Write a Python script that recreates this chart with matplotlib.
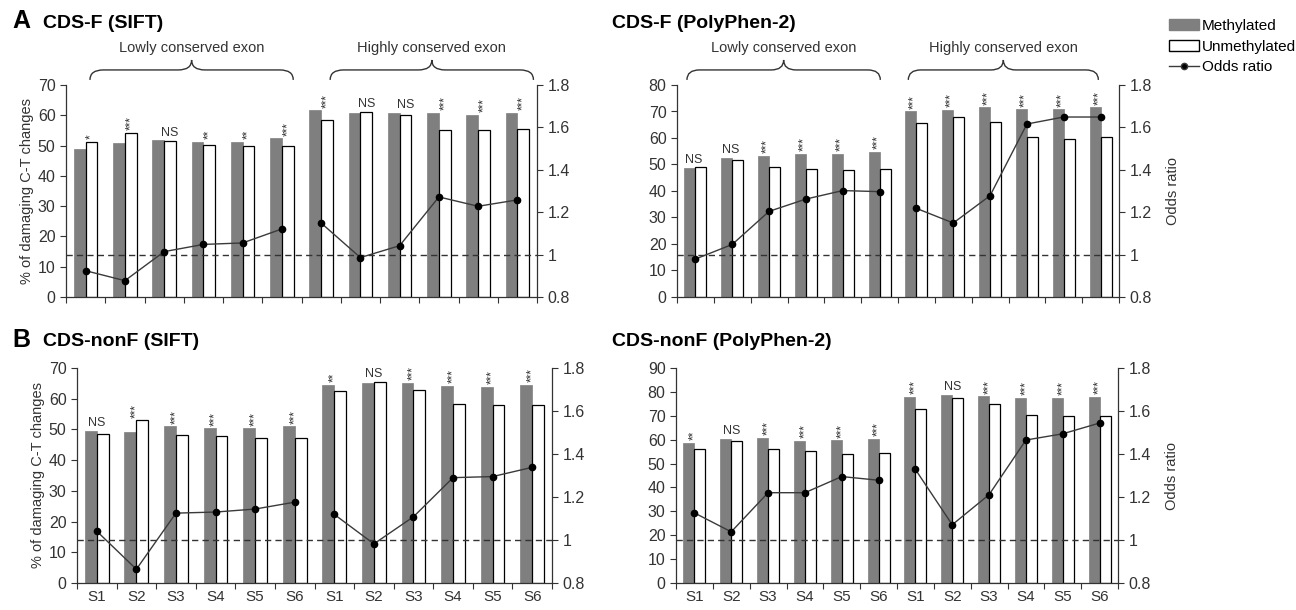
import numpy as np
import matplotlib
matplotlib.use("Agg")
from matplotlib import pyplot as plt
from matplotlib.path import Path
from matplotlib.patches import PathPatch, Patch
from matplotlib.lines import Line2D
import matplotlib.transforms as mtransforms
import matplotlib.ticker as mtick

plt.rcParams['font.family'] = ['Liberation Sans', 'DejaVu Sans']

stages = ["S1", "S2", "S3", "S4", "S5", "S6"]
groups = ["Lowly conserved exon", "Highly conserved exon"]

# A: CDS-F (SIFT)
cdsf_sift_meth = [49.0, 50.9, 51.7, 51.2, 51.2, 52.4, 61.7, 60.9, 60.9, 60.9, 60.1, 60.9]
cdsf_sift_unmeth = [51.2, 54.3, 51.5, 50.2, 49.9, 49.9, 58.4, 61.2, 60.2, 55.1, 55.1, 55.4]
cdsf_sift_or = [0.924, 0.877, 1.014, 1.048, 1.055, 1.121, 1.149, 0.986, 1.042, 1.272, 1.228, 1.258]
cdsf_sift_sig = ["*", "***", "NS", "**", "**", "***", "***", "NS", "NS", "***", "***", "***"]

# A: CDS-F (PolyPhen-2)
cdsf_pp2_meth = [48.6, 52.6, 53.3, 54.1, 54.1, 54.8, 70.1, 70.6, 71.6, 70.8, 70.8, 71.6]
cdsf_pp2_unmeth = [48.9, 51.6, 48.9, 48.3, 47.9, 48.3, 65.8, 67.9, 66.0, 60.3, 59.6, 60.5]
cdsf_pp2_or = [0.979, 1.048, 1.204, 1.262, 1.302, 1.297, 1.218, 1.149, 1.278, 1.616, 1.649, 1.649]
cdsf_pp2_sig = ["NS", "NS", "***", "***", "***", "***", "***", "***", "***", "***", "***", "***"]

# B: CDS-nonF (SIFT)
cdsnonf_sift_meth = [49.5, 49.2, 51.0, 50.4, 50.4, 51.0, 64.5, 65.0, 65.2, 64.2, 63.9, 64.5]
cdsnonf_sift_unmeth = [48.6, 53.0, 48.3, 47.7, 47.3, 47.3, 62.4, 65.5, 63.0, 58.2, 58.0, 58.0]
cdsnonf_sift_or = [1.041, 0.864, 1.125, 1.130, 1.144, 1.176, 1.119, 0.982, 1.108, 1.290, 1.295, 1.338]
cdsnonf_sift_sig = ["NS", "***", "***", "***", "***", "***", "**", "NS", "***", "***", "***", "***"]

# B: CDS-nonF (PolyPhen-2)
cdsnonf_pp2_meth = [58.7, 60.3, 60.7, 59.6, 59.8, 60.3, 77.9, 78.7, 78.2, 77.5, 77.5, 77.9]
cdsnonf_pp2_unmeth = [55.9, 59.4, 55.9, 55.3, 53.9, 54.6, 72.9, 77.4, 75.0, 70.5, 69.8, 69.8]
cdsnonf_pp2_or = [1.126, 1.038, 1.220, 1.220, 1.295, 1.278, 1.328, 1.071, 1.211, 1.465, 1.494, 1.544]
cdsnonf_pp2_sig = ["**", "NS", "***", "***", "***", "***", "***", "NS", "***", "***", "***", "***"]

gray = "#7f7f7f"
dark = "#333333"
W, H = 1296, 610


def add_brace(ax, x0, x1, label):
    y_end, y_line, y_tip, r = 1.024, 1.071, 1.118, 0.34
    xm = (x0 + x1) / 2.0
    verts = [(x0, y_end), (x0, y_line), (x0 + r, y_line), (xm - r, y_line),
             (xm, y_line), (xm, y_tip), (xm, y_line), (xm + r, y_line),
             (x1 - r, y_line), (x1, y_line), (x1, y_end)]
    codes = [Path.MOVETO, Path.CURVE3, Path.CURVE3, Path.LINETO,
             Path.CURVE3, Path.CURVE3, Path.CURVE3, Path.CURVE3,
             Path.LINETO, Path.CURVE3, Path.CURVE3]
    trans = mtransforms.blended_transform_factory(ax.transData, ax.transAxes)
    ax.add_patch(PathPatch(Path(verts, codes), fill=False, lw=1.0, edgecolor=dark,
                           transform=trans, clip_on=False))
    ax.text(xm, 1.175, label, transform=trans, ha="center", va="center",
            fontsize=10.5, color=dark)


def draw_panel(rect, meth, unmeth, odds, sig, ymax, sig_dx, left_label, right_label, xlabels, braces):
    ax = fig.add_axes([rect[0] / W, 1 - rect[3] / H, (rect[2] - rect[0]) / W, (rect[3] - rect[1]) / H])
    x = np.arange(len(meth))
    bw = 0.3
    ax.bar(x - bw / 2, meth, bw, color=gray, edgecolor=gray, lw=0.5)
    ax.bar(x + bw / 2, unmeth, bw, color="white", edgecolor="black", lw=0.9)
    ax.set_xlim(-0.5, len(meth) - 0.5)
    ax.set_ylim(0, ymax)
    ax.set_yticks(np.arange(0, ymax + 1, 10))
    ax.set_xticks(np.arange(-0.5, len(meth), 1))
    ax.set_xticklabels([])
    ax.set_xticks(x, minor=True)
    if xlabels:
        ax.set_xticklabels(stages * 2, minor=True)
    ax.tick_params(axis="x", which="minor", length=0, pad=5, labelsize=11, labelcolor=dark)
    ax.tick_params(axis="both", which="major", direction="out", length=4, width=0.8, color=dark,
                   labelsize=11.5, labelcolor=dark)
    for s in ["top", "right"]:
        ax.spines[s].set_visible(False)
    for s in ["left", "bottom"]:
        ax.spines[s].set_color(dark)
        ax.spines[s].set_linewidth(0.9)
    if left_label:
        ax.set_ylabel("% of damaging C-T changes", fontsize=10.5, color=dark, labelpad=3)

    for i in x:
        top = max(meth[i], unmeth[i])
        if sig[i] == "NS":
            ax.text(i + sig_dx, top + ymax * 0.008, "NS", ha="center", va="bottom", fontsize=9, color=dark)
        else:
            ax.text(i + sig_dx, top + ymax * 0.012, sig[i], ha="center", va="bottom", rotation=90,
                    fontsize=8.5, color=dark)

    ax2 = ax.twinx()
    ax2.set_ylim(0.8, 1.8)
    ax2.set_yticks(np.arange(0.8, 1.81, 0.2))
    ax2.yaxis.set_major_formatter(mtick.FuncFormatter(lambda v, p: "%g" % round(v, 1)))
    ax2.tick_params(axis="y", direction="out", length=4, width=0.8, color=dark, labelsize=11.5, labelcolor=dark)
    for s in ["top", "left", "bottom"]:
        ax2.spines[s].set_visible(False)
    ax2.spines["right"].set_color(dark)
    ax2.spines["right"].set_linewidth(0.9)
    ax2.axhline(1.0, color=dark, lw=1.0, linestyle=(0, (4.5, 3)))
    n = len(stages)
    for g in range(2):
        ax2.plot(x[g * n:(g + 1) * n], odds[g * n:(g + 1) * n], color="#3a3a3a", lw=1.0,
                 marker="o", markersize=4.5, markerfacecolor="black", markeredgecolor="black")
    if right_label:
        ax2.set_ylabel("Odds ratio", fontsize=10.5, color=dark, labelpad=10)
    for (b0, b1), label in zip(braces, groups):
        add_brace(ax, b0, b1, label)
    return ax, ax2


fig = plt.figure(figsize=(W / 100, H / 100), dpi=100)

draw_panel((66, 85, 537, 297), cdsf_sift_meth, cdsf_sift_unmeth, cdsf_sift_or, cdsf_sift_sig, 70, 0.15,
           True, False, False, [(0.11, 5.29), (6.23, 11.41)])
draw_panel((677, 85, 1119, 297), cdsf_pp2_meth, cdsf_pp2_unmeth, cdsf_pp2_or, cdsf_pp2_sig, 80, -0.05,
           False, True, False, [(-0.23, 5.02), (5.78, 10.94)])
draw_panel((77, 368, 552, 583), cdsnonf_sift_meth, cdsnonf_sift_unmeth, cdsnonf_sift_or, cdsnonf_sift_sig, 70, 0.0,
           True, False, True, [])
draw_panel((676, 368, 1118, 583), cdsnonf_pp2_meth, cdsnonf_pp2_unmeth, cdsnonf_pp2_or, cdsnonf_pp2_sig, 90, 0.0,
           False, True, True, [])

fig.text(12 / W, 1 - 21 / H, "A", fontsize=18, fontweight="bold", va="center", ha="left")
fig.text(43 / W, 1 - 23 / H, "CDS-F (SIFT)", fontsize=14, fontweight="bold", va="center", ha="left")
fig.text(612 / W, 1 - 23 / H, "CDS-F (PolyPhen-2)", fontsize=14, fontweight="bold", va="center", ha="left")
fig.text(12 / W, 1 - 340 / H, "B", fontsize=18, fontweight="bold", va="center", ha="left")
fig.text(43 / W, 1 - 341 / H, "CDS-nonF (SIFT)", fontsize=14, fontweight="bold", va="center", ha="left")
fig.text(612 / W, 1 - 341 / H, "CDS-nonF (PolyPhen-2)", fontsize=14, fontweight="bold", va="center", ha="left")

handles = [Patch(facecolor=gray, edgecolor=gray),
           Patch(facecolor="white", edgecolor="black"),
           Line2D([], [], color="#3a3a3a", lw=1.0, marker="o", markersize=4.5, markerfacecolor="black")]
fig.legend(handles, ["Methylated", "Unmethylated", "Odds ratio"], loc="upper left",
           bbox_to_anchor=(1158 / W, 1 - 8 / H), frameon=False, fontsize=11,
           handlelength=2.0, handletextpad=0.15, labelspacing=0.45, borderpad=0.2)

fig.savefig("out.png", dpi=100)
